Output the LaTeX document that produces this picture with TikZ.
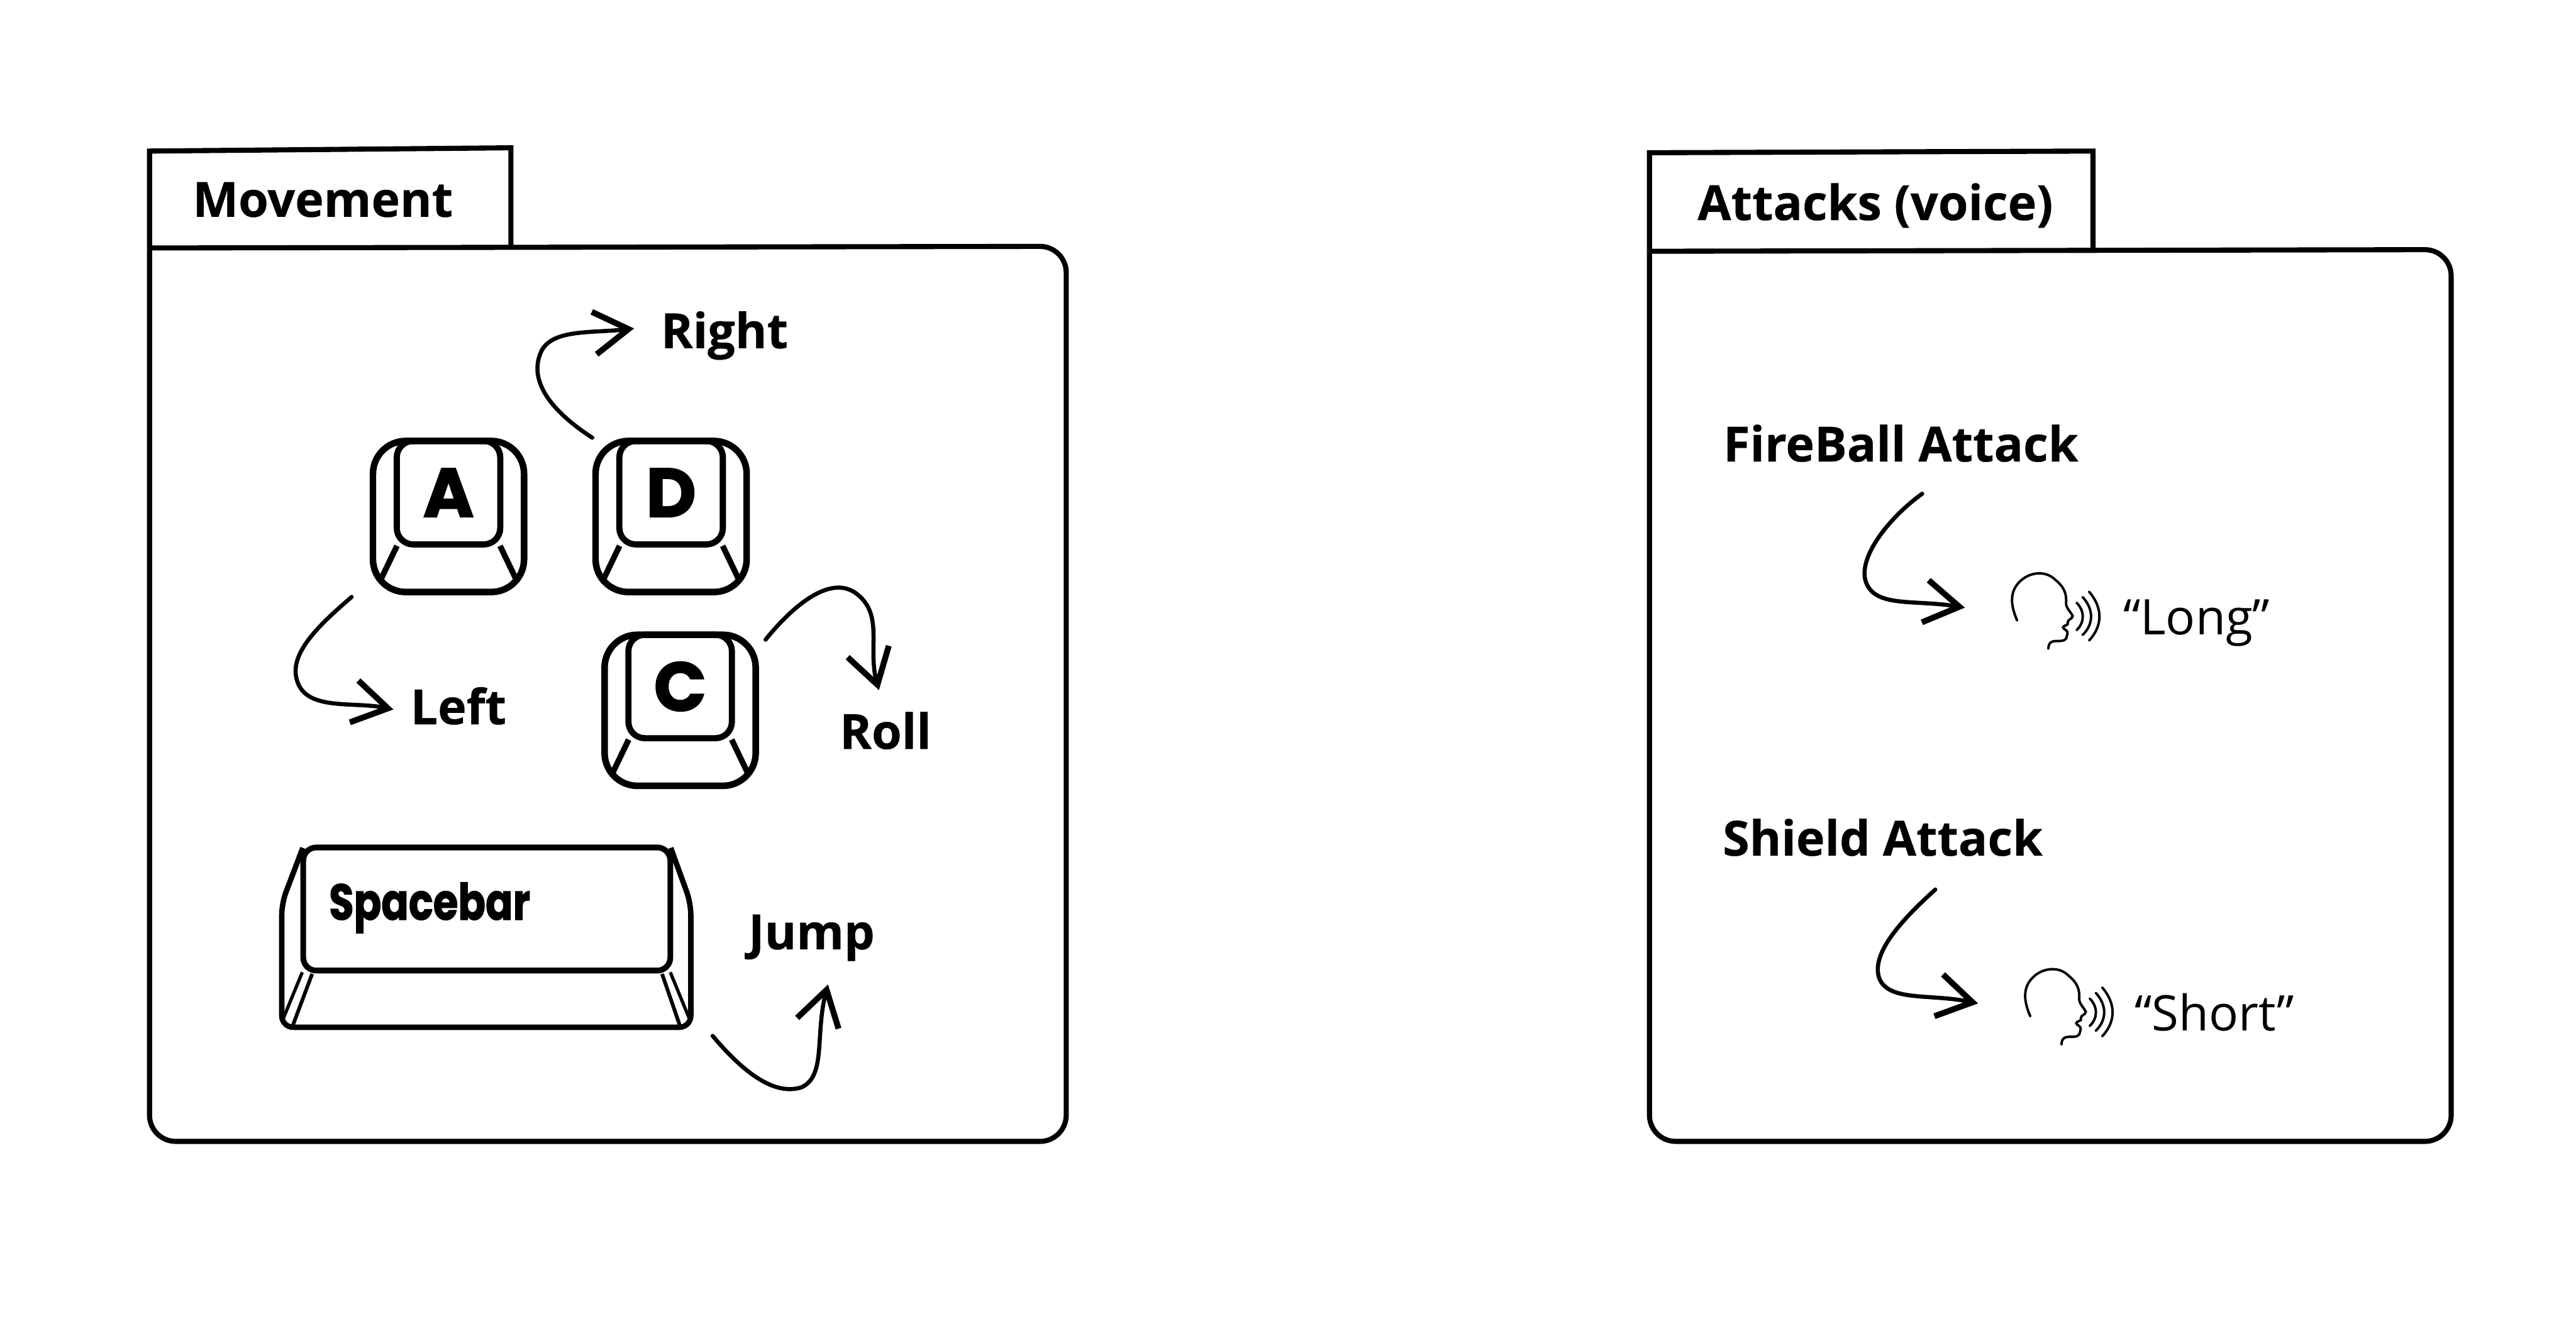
\documentclass[tikz,border=0pt]{standalone}
\usepackage{fontspec}
\setmainfont[BoldFeatures={FakeBold=0.4}]{Open Sans}
\newfontfamily\keyfont[BoldFeatures={FakeBold=1.6}]{Poppins}
\usepackage{tikz}
\usetikzlibrary{calc,arrows.meta,positioning}
\tikzset{
  panel/.style={line width=0.062cm,rounded corners=0.32cm},
  tabbox/.style={line width=0.062cm},
  keybase/.style={draw,line width=0.08cm,rounded corners=0.4cm,minimum size=1.84cm,inner sep=0pt},
  keytop/.style={draw,line width=0.075cm,rounded corners=0.2cm,minimum size=1.26cm,inner sep=0pt,font=\keyfont\bfseries\fontsize{24}{24}\selectfont},
  keyedge/.style={line width=0.07cm},
  barb/.style={line width=0.05cm,line cap=round,-{Straight Barb[length=0.42cm,width=0.52cm,line width=0.072cm]}},
  lbl/.style={anchor=base,inner sep=0pt,font=\bfseries\fontsize{16.8}{17}\selectfont},
  said/.style={anchor=base,inner sep=0pt,font=\fontsize{17}{17}\selectfont},
  speaker/.pic={
    \draw[line width=0.03cm,line cap=round] (3.8,28.8) .. controls (0,20) and (-2,10) .. (8,3) .. controls (14,-1) and (22,-1) .. (27,4)
      .. controls (32,8) and (34,12) .. (33.6,18) .. controls (33.4,21) and (36,23) .. (37.6,26) .. controls (37.6,28) and (34.5,28) .. (34.6,30)
      .. controls (35.5,32) and (32,31.5) .. (31.8,33) .. controls (32,34.5) and (35,34.5) .. (34.4,37) .. controls (33.6,39) and (34.6,41) .. (30,41.3)
      .. controls (26,41.3) and (23,41) .. (22.8,46);
    \draw[line width=0.03cm,line cap=round] (40,18) .. controls (45,23) and (45,30) .. (40,34.7);
    \draw[line width=0.03cm,line cap=round] (43.7,14.6) .. controls (50.5,22) and (50.5,31) .. (43.7,37.6);
    \draw[line width=0.03cm,line cap=round] (47.6,11.3) .. controls (56,21) and (56,32) .. (47.6,41);
  }
}

\begin{document}
\begin{tikzpicture}[x=0.02cm,y=-0.02cm]
\useasboundingbox (0,0) rectangle (1568,803);
% panels
\draw[panel] (91,151)--(649,150)--(649,695)--(91,695)--(91,151);
\draw[tabbox] (91,151)--(91,92)--(311,90)--(311,150);
\draw[panel] (1004,153)--(1492,152)--(1492,695)--(1004,695)--(1004,153);
\draw[tabbox] (1004,153)--(1004,93)--(1274,92)--(1274,152);
\node[lbl] (lblMove) at (196.5,132) {Movement};
\node[lbl] (lblAtt) at (1141.5,134) {Attacks (voice)};
% keys
\foreach \nm/\cx/\cy in {A/273/314.5,D/408.5/314.5,C/414/432.5}{
  \node[keybase] (key\nm) at (\cx,\cy) {};
  \node[keytop] (top\nm) at (\cx,\cy-14.5) {\nm};
  \draw[keyedge] (top\nm.south west)++(2,-1)--($(key\nm.south west)+(6,-8)$);
  \draw[keyedge] (top\nm.south east)++(-2,-1)--($(key\nm.south east)+(-6,-8)$);
}
% spacebar
\node[draw,line width=0.07cm,rounded corners=0.16cm,minimum width=4.47cm,minimum height=1.5cm,inner sep=0pt] (keyS) at (296.3,553.5) {};
\node[inner sep=0pt,anchor=base west,xscale=0.8,font=\keyfont\bfseries\fontsize{17.5}{17.5}\selectfont] (txtS) at (200,560) {Spacebar};
\coordinate (spL) at (190,593);
\coordinate (spR) at (403,593);
\draw[line width=0.066cm,rounded corners=0.14cm] ($(keyS.north west)+(1.5,2)$)--(171.5,550)--(171.5,625.5)--(420.5,625.5)--(420.5,550)--($(keyS.north east)+(-1.5,2)$);
\draw[keyedge,line width=0.045cm] (spL)--(178,625);
\draw[keyedge,line width=0.045cm] (spR)--(414,625);
\draw[keyedge,line width=0.04cm] (184,592)--(172.5,620);
\draw[keyedge,line width=0.04cm] (408,592)--(419.5,620);
% movement labels
\node[lbl] (lblRight) at (441,212) {Right};
\node[lbl] (lblLeft) at (279,441) {Left};
\node[lbl] (lblRoll) at (539,456) {Roll};
\node[lbl] (lblJump) at (494,578) {Jump};
\draw[barb] (keyD.north west) .. controls (335,250) and (322,232) .. (329,215) .. controls (335,200) and (360,203) .. ($(lblRight.base west)+(-16,-12)$);
\draw[barb] ($(keyA.south west)+(-11,1)$) .. controls (195,380) and (175,398) .. (181,415) .. controls (187,433) and (215,427) .. ($(lblLeft.base west)+(-10,-9)$);
\draw[barb] ($(keyC.north east)+(4,5)$) .. controls (480,372) and (505,348) .. (522,362) .. controls (538,375) and (528,395) .. ($(lblRoll.north)+(-4,-13)$);
\draw[barb] ($(keyS.south east)+(24,38)$) .. controls (450,650) and (470,668) .. (488,662) .. controls (503,655) and (496,630) .. ($(lblJump.south)+(10,14)$);
% attacks
\node[lbl] (lblFire) at (1157,281) {FireBall Attack};
\node[lbl] (lblShield) at (1146,521) {Shield Attack};
\coordinate (headLong) at (1224,349);
\coordinate (headShort) at (1232,590);
\pic at (headLong) {speaker};
\pic at (headShort) {speaker};
\node[said] (sayLong) at (1337,386.5) {“Long”};
\node[said] (sayShort) at (1348,627.5) {“Short”};
\draw[barb] ($(lblFire.south)+(13,19)$) .. controls (1150,315) and (1130,340) .. (1136,355) .. controls (1142,370) and (1165,365) .. ($(headLong)+(-28,21)$);
\draw[barb] ($(lblShield.south)+(32,20)$) .. controls (1160,558) and (1138,580) .. (1144,596) .. controls (1150,610) and (1175,605) .. ($(headShort)+(-28,21)$);
\end{tikzpicture}
\end{document}
